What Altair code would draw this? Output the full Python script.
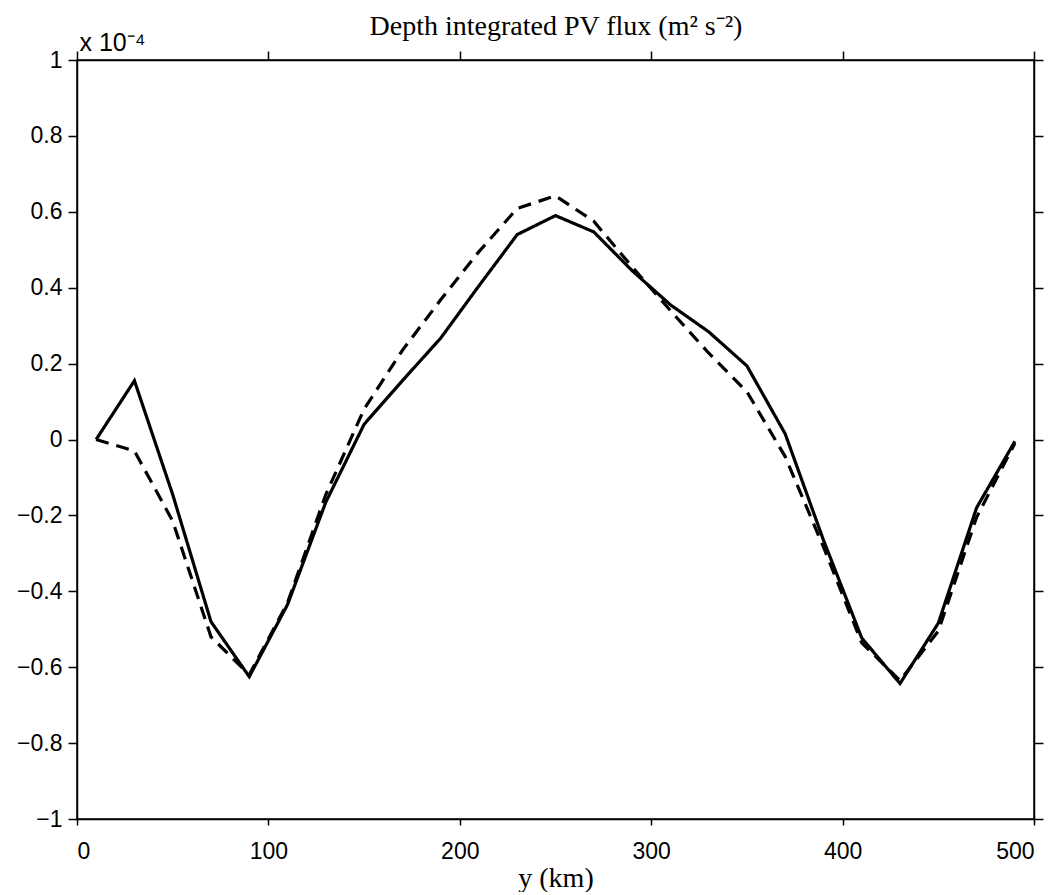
import altair as alt
import pandas as pd

# y positions (km)
y_km = [10, 30, 50, 70, 90, 110, 130, 150, 170, 190, 210, 230, 250,
        270, 290, 310, 330, 350, 370, 390, 410, 430, 450, 470, 490]

# depth integrated PV flux, in units of 1e-4 m^2 s^-2
solid_vals = [0.0, 0.155, -0.145, -0.48, -0.625, -0.435, -0.165, 0.04, 0.155,
              0.267, 0.405, 0.54, 0.59, 0.547, 0.445, 0.355, 0.284, 0.194,
              0.015, -0.265, -0.523, -0.643, -0.484, -0.18, -0.005]
dashed_vals = [0.0, -0.03, -0.215, -0.52, -0.62, -0.43, -0.145, 0.08, 0.235,
               0.368, 0.495, 0.609, 0.642, 0.575, 0.455, 0.34, 0.228, 0.126,
               -0.045, -0.283, -0.536, -0.635, -0.505, -0.205, -0.01]

series_names = ["solid", "dashed"]
x_ticks = [0, 100, 200, 300, 400, 500]
y_ticks = [-1, -0.8, -0.6, -0.4, -0.2, 0, 0.2, 0.4, 0.6, 0.8, 1]

df = pd.concat([
    pd.DataFrame({"y_km": y_km, "flux": solid_vals, "series": series_names[0]}),
    pd.DataFrame({"y_km": y_km, "flux": dashed_vals, "series": series_names[1]}),
])

xscale = alt.Scale(domain=[0, 500], nice=False, zero=False)
yscale = alt.Scale(domain=[-1, 1], nice=False, zero=False)

lines = alt.Chart(df).mark_line(strokeWidth=3.2, color="black", strokeCap="butt", strokeJoin="miter").encode(
    x=alt.X("y_km:Q", scale=xscale,
            axis=alt.Axis(values=x_ticks, title="y (km)", orient="bottom",
                          tickSize=6, labelPadding=15, titleY=67,
                          titleBaseline="alphabetic",
                          titleFont="Liberation Serif", titleFontSize=28,
                          titleFontWeight="normal", grid=False)),
    y=alt.Y("flux:Q", scale=yscale,
            axis=alt.Axis(values=y_ticks, title="x 10⁻⁴", orient="left",
                          labelExpr="format(datum.value, '~g')",
                          tickSize=9, labelPadding=6, titleAngle=0, titleAlign="left",
                          titleBaseline="alphabetic", titleX=2, titleY=-10,
                          titleFont="Liberation Sans", titleFontSize=25,
                          titleFontWeight="normal", grid=False)),
    strokeDash=alt.StrokeDash("series:N",
                              scale=alt.Scale(domain=series_names, range=[[1, 0], [13, 8]]),
                              legend=None),
    detail="series:N",
)

frame = alt.Chart(df[df["series"] == series_names[0]]).mark_line(opacity=0).encode(
    x=alt.X("y_km:Q", scale=xscale,
            axis=alt.Axis(values=x_ticks, orient="top", labels=False, tickSize=9,
                          title="Depth integrated PV flux (m² s⁻²)",
                          titleFont="Liberation Serif", titleFontSize=28,
                          titleFontWeight="normal", titleBaseline="alphabetic",
                          titleY=-26, grid=False)),
    y=alt.Y("flux:Q", scale=yscale,
            axis=alt.Axis(values=y_ticks, orient="right", labels=False, tickSize=9,
                          title=None, grid=False)),
)

chart = alt.layer(lines, frame).resolve_scale(x="independent", y="independent").properties(
    width=957,
    height=759,
    autosize=alt.AutoSizeParams(type="none"),
    padding={"left": 69, "top": 52, "right": 15, "bottom": 73},
    background="white",
).configure_view(stroke="black", strokeWidth=1.5).configure_axis(
    domainColor="black", domainWidth=1.5, tickColor="black", tickWidth=1.5,
    labelColor="black", labelFont="Liberation Sans", labelFontSize=23,
    titleColor="black",
)

chart.save("out.html", embed_options={"renderer": "svg", "actions": False})
